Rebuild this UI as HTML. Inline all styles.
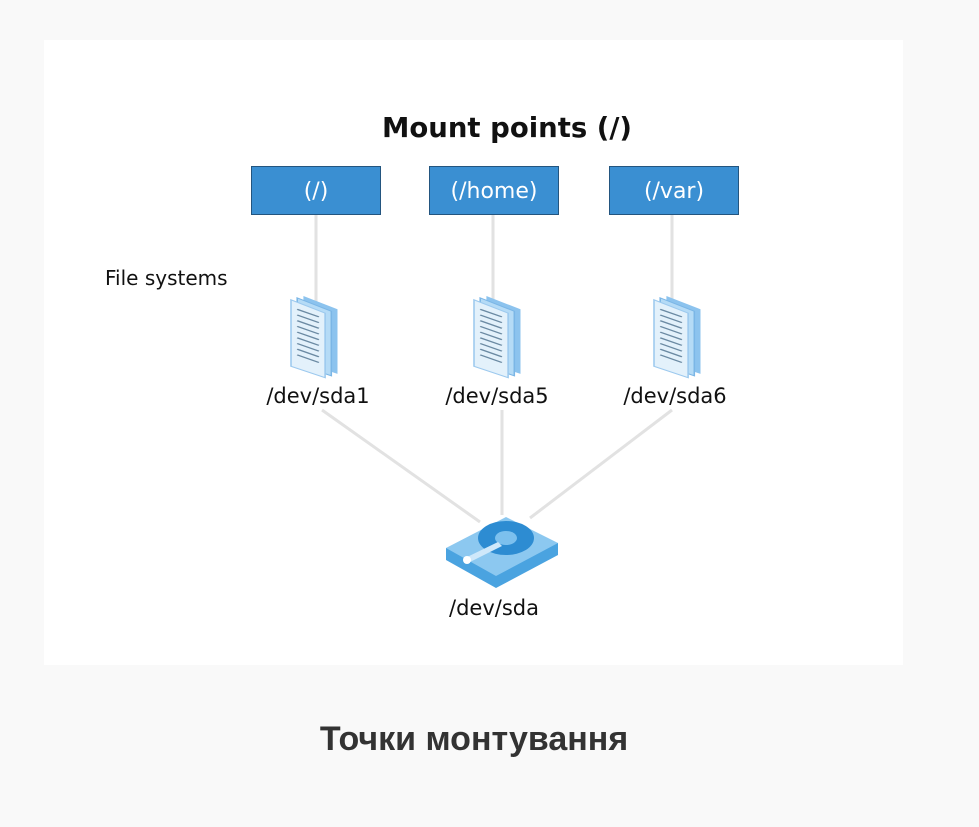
<!DOCTYPE html>
<html><head><meta charset="utf-8"><style>
body{margin:0;background:#f9f9f9;width:979px;height:827px;overflow:hidden;font-family:"Liberation Sans","DejaVu Sans",sans-serif}
</style></head><body>
<svg width="979" height="827" xmlns="http://www.w3.org/2000/svg" style="position:absolute;left:0;top:0">
<rect x="44" y="40" width="859" height="625" fill="#fff"/>
<text x="507" y="137" font-size="27.5" font-weight="bold" text-anchor="middle" fill="#111" font-family="DejaVu Sans, sans-serif">Mount points (/)</text>
<g stroke="#e2e2e2" stroke-width="3" fill="none">
<line x1="316" y1="215" x2="316" y2="305"/>
<line x1="493" y1="215" x2="493" y2="305"/>
<line x1="672" y1="215" x2="672" y2="305"/>
<line x1="322" y1="410" x2="480" y2="522"/>
<line x1="502" y1="410" x2="502" y2="515"/>
<line x1="672" y1="410" x2="530" y2="518"/>
</g>
<g font-family="DejaVu Sans, sans-serif" font-size="22" fill="#fff" text-anchor="middle">
<rect x="251.5" y="166.5" width="129" height="48" fill="#3a8fd2" stroke="#23557f"/>
<text x="316" y="198">(/)</text>
<rect x="429.5" y="166.5" width="129" height="48" fill="#3a8fd2" stroke="#23557f"/>
<text x="494" y="198">(/home)</text>
<rect x="609.5" y="166.5" width="129" height="48" fill="#3a8fd2" stroke="#23557f"/>
<text x="674" y="198">(/var)</text>
</g>
<text x="105" y="285" font-size="20" fill="#111" font-family="DejaVu Sans, sans-serif">File systems</text>
<defs>
<g id="doc">
<path d="M8 0 L30 14 L30 82 L8 70 Z" fill="#8cc3ee"/>
<path d="M4 2 L26 16 L26 84 L4 72 Z" fill="#b5dbf6" stroke="#7bb6e6"/>
<path d="M0 4 L22 18 L22 86 L0 74 Z" fill="#e3f1fb" stroke="#9cc9ee"/>
<g stroke="#6b8aa3" stroke-width="1.3">
<line x1="4" y1="14" x2="18" y2="22"/><line x1="4" y1="20" x2="18" y2="28"/><line x1="4" y1="26" x2="18" y2="34"/>
<line x1="4" y1="32" x2="18" y2="40"/><line x1="4" y1="38" x2="18" y2="46"/><line x1="4" y1="44" x2="18" y2="52"/>
<line x1="4" y1="50" x2="18" y2="58"/><line x1="4" y1="56" x2="18" y2="64"/><line x1="4" y1="62" x2="18" y2="70"/>
</g>
</g>
</defs>
<use href="#doc" transform="translate(291,296) scale(1.55,0.95)"/>
<use href="#doc" transform="translate(474,296) scale(1.55,0.95)"/>
<use href="#doc" transform="translate(654,296) scale(1.55,0.95)"/>
<g font-family="DejaVu Sans, sans-serif" font-size="21" fill="#111" text-anchor="middle">
<text x="318" y="403">/dev/sda1</text>
<text x="497" y="403">/dev/sda5</text>
<text x="675" y="403">/dev/sda6</text>
<text x="494" y="615">/dev/sda</text>
</g>
<g>
<path d="M446 548 L446 560 L496 588 L558 555 L558 543 Z" fill="#4aa3e0"/>
<path d="M446 548 L506 517 L558 543 L496 576 Z" fill="#8cc8f0"/>
<ellipse cx="506" cy="538" rx="28" ry="17" fill="#2d8cd2"/>
<ellipse cx="506" cy="538" rx="11" ry="7" fill="#7cc0ee"/>
<path d="M465 558 L498 542 L502 546 L470 562 Z" fill="#cfe8fa"/>
<circle cx="467" cy="560" r="4" fill="#fff"/>
</g>
<text x="474" y="750" font-size="34" font-weight="bold" text-anchor="middle" fill="#333">Точки монтування</text>
</svg>
</body></html>
